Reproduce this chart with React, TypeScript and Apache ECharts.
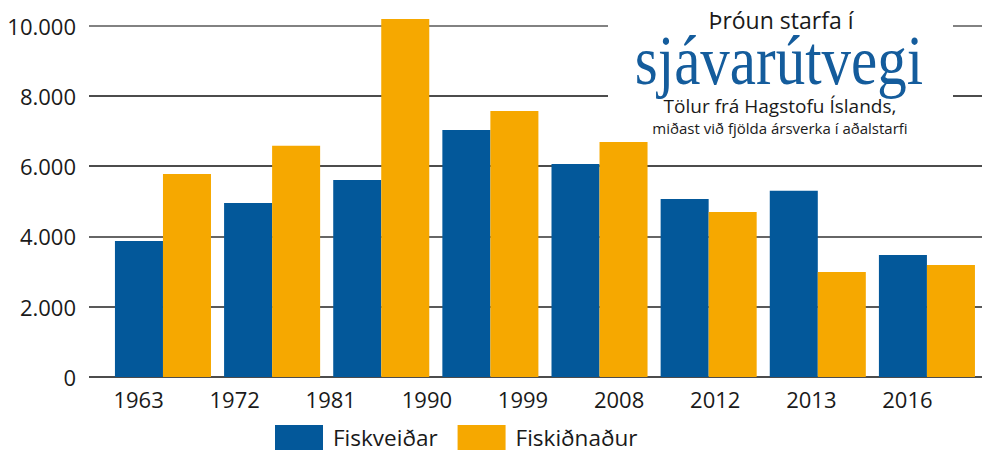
import React, { useEffect, useRef } from "react";
import * as echarts from "echarts";

const yearLabels = ["1963", "1972", "1981", "1990", "1999", "2008", "2012", "2013", "2016"];
const barSlots = ["g1", "g2", "g3", "g4", "g5", "g6", "g7", "g8"];
const fiskveidar = [3870, 4950, 5610, 7030, 6060, 5070, 5300, 3470];
const fiskidnadur = [5780, 6580, 10190, 7570, 6690, 4700, 2990, 3190];
const seriesNames = ["Fiskveiðar", "Fiskiðnaður"];
const titleLines = ["Þróun starfa í", "sjávarútvegi", "Tölur frá Hagstofu Íslands,", "miðast við fjölda ársverka í aðalstarfi"];

const SANS = '"Open Sans", "Noto Sans", sans-serif';
const SERIF = '"Liberation Serif", "DejaVu Serif", serif';
const BLUE = "#03589a";
const ORANGE = "#f6a800";

export default function App() {
  const ref = useRef<HTMLDivElement>(null);
  useEffect(() => {
    if (!ref.current) return;
    const chart = echarts.init(ref.current, undefined, { renderer: "svg" });
    const top = 25.7;
    const bottom = 76;
    chart.setOption({
      animation: false,
      backgroundColor: "#ffffff",
      grid: [
        { left: 89, right: 0, top, bottom },
        { left: 90.5, right: 26.5, top, bottom },
        { left: 108.4, right: 0.5, top, bottom },
      ],
      xAxis: [
        { gridIndex: 0, type: "category", data: yearLabels, show: false },
        {
          gridIndex: 1,
          type: "category",
          data: yearLabels,
          axisLine: { show: false },
          axisTick: { show: false },
          axisLabel: { fontSize: 22, color: "#1a1a1a", margin: 11, fontFamily: SANS },
        },
        { gridIndex: 2, type: "category", data: barSlots, show: false },
      ],
      yAxis: [
        {
          gridIndex: 0,
          type: "value",
          min: 0,
          max: 10000,
          interval: 2000,
          axisLine: { show: false },
          axisTick: { show: false },
          axisLabel: {
            fontSize: 22,
            color: "#1a1a1a",
            margin: 13,
            fontFamily: SANS,
            formatter: (v: number) => String(v).replace(/\B(?=(\d{3})+(?!\d))/g, "."),
          },
          splitLine: {
            lineStyle: {
              color: ["#111111", "#222222", "#333333", "#111111", "#111111", "#585858"],
              width: 1.5,
            },
          },
        },
        { gridIndex: 1, type: "value", min: 0, max: 10000, show: false },
        { gridIndex: 2, type: "value", min: 0, max: 10000, show: false },
      ],
      legend: {
        left: 275,
        top: 425,
        padding: 0,
        itemWidth: 48,
        itemHeight: 25,
        itemGap: 20,
        icon: "rect",
        data: seriesNames,
        textStyle: { fontSize: 22.5, color: "#1a1a1a", fontFamily: SANS, padding: [0, 0, 0, 5], lineHeight: 22 },
      },
      series: [
        {
          name: seriesNames[0],
          type: "bar",
          xAxisIndex: 2,
          yAxisIndex: 2,
          data: fiskveidar,
          itemStyle: { color: BLUE },
          barGap: "0%",
          barCategoryGap: "12%",
          clip: false,
        },
        {
          name: seriesNames[1],
          type: "bar",
          xAxisIndex: 2,
          yAxisIndex: 2,
          data: fiskidnadur,
          itemStyle: { color: ORANGE },
          barGap: "0%",
          barCategoryGap: "12%",
          clip: false,
        },
      ],
      graphic: [
        {
          type: "rect",
          z: 100,
          shape: { x: 608, y: 0, width: 345, height: 139 },
          style: { fill: "#ffffff" },
        },
        {
          type: "text",
          z: 101,
          x: 781,
          y: 20,
          style: { text: titleLines[0], fontSize: 23, fontFamily: SANS, fill: "#1a1a1a", textAlign: "center", textVerticalAlign: "middle" },
        },
        {
          type: "text",
          z: 101,
          x: 779,
          y: 61,
          scaleY: 1.17,
          style: { text: titleLines[1], fontSize: 59, lineHeight: 46, fontFamily: SERIF, fill: "#145c9c", textAlign: "center", textVerticalAlign: "middle" },
        },
        {
          type: "text",
          z: 101,
          x: 780,
          y: 106,
          style: { text: titleLines[2], fontSize: 19, fontFamily: SANS, fill: "#1a1a1a", textAlign: "center", textVerticalAlign: "middle" },
        },
        {
          type: "text",
          z: 101,
          x: 780,
          y: 128,
          style: { text: titleLines[3], fontSize: 15, fontFamily: SANS, fill: "#1a1a1a", textAlign: "center", textVerticalAlign: "middle" },
        },
      ],
    });
    return () => chart.dispose();
  }, []);
  return <div ref={ref} style={{ position: "fixed", left: 0, top: 0, width: 982, height: 453 }} />;
}
